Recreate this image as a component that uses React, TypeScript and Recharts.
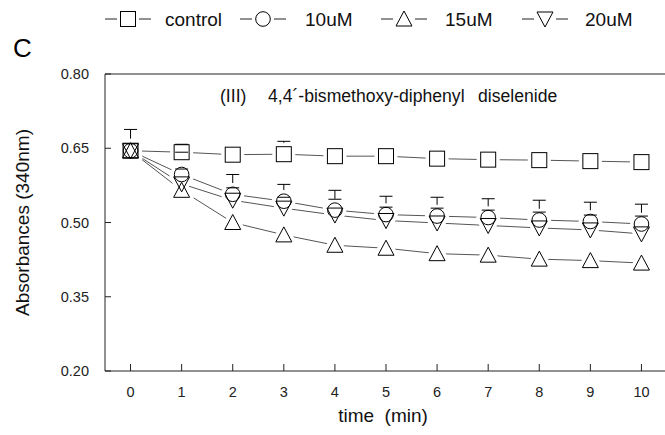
import React from 'react';
import { LineChart, Line, XAxis, YAxis, ErrorBar, ReferenceLine } from 'recharts';

const times = [0, 1, 2, 3, 4, 5, 6, 7, 8, 9, 10];
const seriesNames = ['control', '10uM', '15uM', '20uM'];
const control = [0.645, 0.642, 0.637, 0.638, 0.634, 0.634, 0.629, 0.627, 0.626, 0.624, 0.622];
const uM10 = [0.645, 0.597, 0.557, 0.543, 0.525, 0.516, 0.513, 0.51, 0.505, 0.502, 0.497];
const uM15 = [0.645, 0.565, 0.5, 0.475, 0.454, 0.448, 0.437, 0.434, 0.426, 0.423, 0.418];
const uM20 = [0.645, 0.578, 0.545, 0.529, 0.515, 0.504, 0.499, 0.494, 0.489, 0.485, 0.477];
// upper end of the (one sided) error bars, null where it hides inside the symbol
const controlTop = [0.688, 0.658, null, 0.664, null, null, null, null, null, null, null];
const uM10Top = [null, 0.608, 0.57, 0.551, 0.547, 0.531, 0.529, 0.525, 0.521, 0.515, 0.513];
const uM20Top = [null, 0.642, 0.597, 0.577, 0.565, 0.553, 0.551, 0.548, 0.545, 0.541, 0.537];
const yTicks = [0.2, 0.35, 0.5, 0.65, 0.8];

const err = (top: number | null, v: number) => (top == null ? null : [0, top - v]);

const rows = times.map((t, i) => ({
  t,
  control: control[i],
  uM10: uM10[i],
  uM15: uM15[i],
  uM20: uM20[i],
  controlTop: controlTop[i],
  uM10Top: uM10Top[i],
  uM20Top: uM20Top[i],
  controlErr: err(controlTop[i], control[i]),
  uM10Err: err(uM10Top[i], uM10[i]),
  uM20Err: err(uM20Top[i], uM20[i]),
}));

const FONT = '"Liberation Sans", Arial, sans-serif';
const keys = ['control', 'uM10', 'uM15', 'uM20'];
const shapes = ['square', 'circle', 'up', 'down'];

function Sym({ shape, cx, cy, halo }: any) {
  const st = halo
    ? { fill: '#fff', stroke: '#fff', strokeWidth: 8, strokeLinejoin: 'round' as const }
    : { fill: 'none', stroke: '#000', strokeWidth: 1 };
  if (shape === 'square') return <rect x={cx - 7.5} y={cy - 7.5} width={15} height={15} {...st} />;
  if (shape === 'circle') return <circle cx={cx} cy={cy} r={7.3} {...st} />;
  if (shape === 'up')
    return <polygon points={`${cx},${cy - 8} ${cx + 8},${cy + 7} ${cx - 8},${cy + 7}`} {...st} />;
  return <polygon points={`${cx - 8},${cy - 7} ${cx + 8},${cy - 7} ${cx},${cy + 8}`} {...st} />;
}

const dotFn = (shape: string, halo: boolean) => (p: any) => {
  if (p.cx == null || p.cy == null) return <g key={`${shape}${halo}${p.index}`} />;
  return (
    <g key={`${shape}${halo}${p.index}`}>
      <Sym shape={shape} cx={p.cx} cy={p.cy} halo={halo} />
    </g>
  );
};

const capFn = (name: string) => (p: any) => {
  if (p.cx == null || p.cy == null || p.value == null) return <g key={`${name}${p.index}`} />;
  return <line key={`${name}${p.index}`} x1={p.cx - 6.5} x2={p.cx + 6.5} y1={p.cy} y2={p.cy} stroke="#000" strokeWidth={1} />;
};

const legendPos = [
  { cx: 128, tx: 165 },
  { cx: 263, tx: 305 },
  { cx: 404, tx: 445 },
  { cx: 545, tx: 585 },
];

export default function App() {
  return (
    <div style={{ position: 'absolute', left: 0, top: 0, width: 665, height: 435, overflow: 'hidden', background: '#fff', fontFamily: FONT }}>
      <LineChart width={667} height={435} data={rows} margin={{ top: 74, right: 0, bottom: 34, left: 45 }}>
        <XAxis
          dataKey="t"
          type="number"
          domain={[-0.5, 10.5]}
          ticks={times}
          interval={0}
          height={30}
          tickSize={-7}
          tickMargin={23}
          axisLine={{ stroke: '#222' }}
          tickLine={{ stroke: '#222' }}
          tick={{ fill: '#222', fontSize: 14.5, fontFamily: FONT }}
        />
        <YAxis
          type="number"
          domain={[0.2, 0.8]}
          ticks={yTicks}
          interval={0}
          width={60}
          tickSize={-6}
          tickMargin={22}
          tickFormatter={(v: number) => v.toFixed(2)}
          axisLine={{ stroke: '#222' }}
          tickLine={{ stroke: '#222' }}
          tick={{ fill: '#222', fontSize: 14.5, fontFamily: FONT }}
        />
        <ReferenceLine y={0.8} stroke="#222" />
        {keys.map((k) => (
          <Line key={`l-${k}`} dataKey={k} type="linear" stroke="#555" strokeWidth={1} dot={false} activeDot={false} isAnimationActive={false} />
        ))}
        {keys.map((k, i) => (
          <Line key={`h-${k}`} dataKey={k} stroke="none" dot={dotFn(shapes[i], true)} activeDot={false} isAnimationActive={false} />
        ))}
        {keys.map((k, i) => (
          <Line key={`m-${k}`} dataKey={k} stroke="none" dot={dotFn(shapes[i], false)} activeDot={false} isAnimationActive={false} />
        ))}
        {['control', 'uM10', 'uM20'].map((k) => (
          <Line key={`e-${k}`} dataKey={k} stroke="none" dot={false} activeDot={false} isAnimationActive={false}>
            <ErrorBar dataKey={`${k}Err`} width={0} stroke="#000" strokeWidth={1} direction="y" />
          </Line>
        ))}
        {['control', 'uM10', 'uM20'].map((k) => (
          <Line key={`c-${k}`} dataKey={`${k}Top`} stroke="none" dot={capFn(k)} activeDot={false} isAnimationActive={false} />
        ))}
      </LineChart>
      <svg width={665} height={435} style={{ position: 'absolute', left: 0, top: 0, pointerEvents: 'none' }} fontFamily={FONT}>
        <text x={13} y={57} fontSize={26} fill="#000">C</text>
        {seriesNames.map((n, i) => {
          const { cx, tx } = legendPos[i];
          return (
            <g key={n}>
              <line x1={cx - 23} x2={cx - 11} y1={19} y2={19} stroke="#222" />
              <line x1={cx + 11} x2={cx + 23} y1={19} y2={19} stroke="#222" />
              <Sym shape={shapes[i]} cx={cx} cy={19} halo={false} />
              <text x={tx} y={26} fontSize={19} fill="#111">{n}</text>
            </g>
          );
        })}
        <text x={220} y={102} fontSize={17.6} fill="#111">(III)</text>
        <text x={268} y={102} fontSize={17.6} fill="#111">4,4´-bismethoxy-diphenyl</text>
        <text x={478} y={102} fontSize={17.6} fill="#111">diselenide</text>
        <text x={383} y={422} fontSize={19} fill="#111" textAnchor="middle" style={{ whiteSpace: 'pre' }}>time  (min)</text>
        <text transform="translate(29,222.5) rotate(-90)" fontSize={19} fill="#111" textAnchor="middle">Absorbances (340nm)</text>
      </svg>
    </div>
  );
}
